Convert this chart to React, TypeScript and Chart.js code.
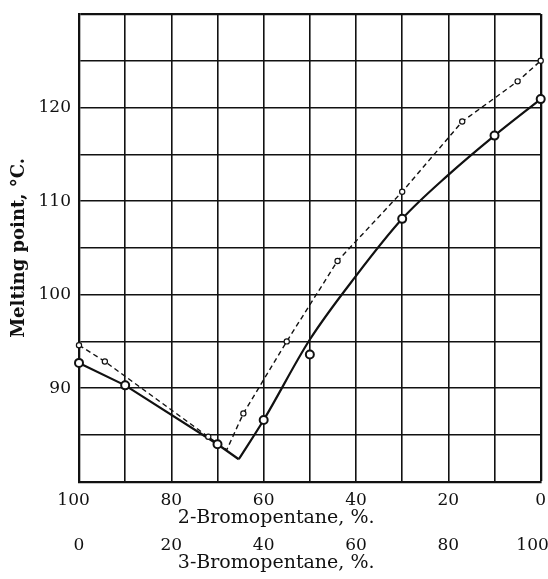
import { useEffect, useRef } from 'react';
import { Chart, registerables } from 'chart.js';

Chart.register(...registerables);

// ---- data ----
// x: 2-Bromopentane, % (3-Bromopentane % = 100 - x)
const solidMarkerPct2 = [100, 90, 70, 60, 50, 30, 10, 0];
const solidMarkerMp = [92.7, 90.3, 84.0, 86.6, 93.6, 108.1, 117.0, 120.9];

// solid curve, 2-bromo-rich branch (straight segments down to the eutectic)
const solidLeftPct2 = [100, 90, 70, 65.4];
const solidLeftMp = [92.7, 90.3, 84.0, 82.4];
// solid curve, 3-bromo-rich branch (smooth curve up from the eutectic)
const solidRightPct2 = [65.4, 60, 50, 40, 30, 20, 10, 0];
const solidRightMp = [82.4, 86.6, 95.2, 102.0, 108.1, 112.8, 117.0, 120.9];

const dashedPct2 = [100, 94.4, 72, 68, 64.4, 55, 44, 30, 17, 5, 0];
const dashedMp = [94.6, 92.85, 84.8, 83.4, 87.3, 95, 103.6, 111.0, 118.5, 122.8, 125.0];
const dashedMarkerShown = [true, true, true, false, true, true, true, true, true, true, true];

const yTickLabels = [90, 100, 110, 120];
const xTopTickLabels = [100, 80, 60, 40, 20, 0];
const xBottomTickLabels = [0, 20, 40, 60, 80, 100];

const yTitle = 'Melting point, °C.';
const xTitleTop = '2-Bromopentane, %.';
const xTitleBottom = '3-Bromopentane, %.';

const INK = '#111';
const SERIF = '"DejaVu Serif", "Liberation Serif", serif';

const toPoints = (xs: number[], ys: number[]) => xs.map((x, i) => ({ x, y: ys[i] }));

const xTitlesPlugin = {
  id: 'xTitles',
  afterDraw(chart: any) {
    const { ctx, chartArea, scales } = chart;
    const cx = chartArea.left + (chartArea.right - chartArea.left) * 0.427;
    ctx.save();
    ctx.fillStyle = INK;
    ctx.font = `19px ${SERIF}`;
    ctx.textAlign = 'center';
    ctx.textBaseline = 'alphabetic';
    ctx.fillText(xTitleTop, cx, scales.x.bottom - 7);
    ctx.fillText(xTitleBottom, cx, scales.x2.bottom - 10.7);
    ctx.restore();
  },
};

export default function App() {
  const canvasRef = useRef<HTMLCanvasElement | null>(null);

  useEffect(() => {
    const canvas = canvasRef.current;
    if (!canvas) return;

    const solidLine = {
      borderColor: INK,
      borderWidth: 2.2,
      pointRadius: 0,
      xAxisID: 'x',
      yAxisID: 'y',
      clip: false,
    };

    const chart = new Chart(canvas, {
      type: 'line',
      data: {
        datasets: [
          {
            label: 'solid markers',
            data: toPoints(solidMarkerPct2, solidMarkerMp),
            showLine: false,
            pointRadius: 4,
            pointBorderWidth: 2,
            pointBorderColor: INK,
            pointBackgroundColor: '#fff',
            xAxisID: 'x',
            yAxisID: 'y',
            clip: false,
            order: 0,
          },
          {
            label: 'dashed',
            data: toPoints(dashedPct2, dashedMp),
            borderColor: INK,
            borderWidth: 1.4,
            borderDash: [5, 3.5],
            tension: 0,
            pointRadius: (c: any) => (dashedMarkerShown[c.dataIndex] ? 2.6 : 0),
            pointBorderWidth: 1.2,
            pointBorderColor: INK,
            pointBackgroundColor: '#fff',
            xAxisID: 'x',
            yAxisID: 'y',
            clip: false,
            order: 1,
          },
          {
            label: 'solid curve left',
            data: toPoints(solidLeftPct2, solidLeftMp),
            ...solidLine,
            tension: 0,
            order: 2,
          },
          {
            label: 'solid curve right',
            data: toPoints(solidRightPct2, solidRightMp),
            ...solidLine,
            cubicInterpolationMode: 'monotone',
            order: 3,
          },
        ],
      },
      options: {
        animation: false,
        responsive: false,
        devicePixelRatio: 1,
        layout: { padding: { top: 14, right: 7.3, left: 0, bottom: 0 } },
        plugins: {
          legend: { display: false },
          tooltip: { enabled: false },
        },
        scales: {
          x: {
            type: 'linear',
            position: 'bottom',
            weight: 0,
            min: 0,
            max: 100,
            reverse: true,
            grid: {
              color: INK,
              lineWidth: (c: any) => (c.tick && c.tick.value === 0 ? 2.3 : 1.6),
              drawTicks: false,
            },
            border: { display: true, color: INK, width: 2.3 },
            ticks: {
              stepSize: 10,
              autoSkip: false,
              maxRotation: 0,
              padding: 9,
              color: INK,
              font: { family: SERIF, size: 17, lineHeight: 1.2 },
              callback: (v: any) =>
                xTopTickLabels.includes(v) ? (v === 100 ? '100\u00A0\u00A0' : String(v)) : '',
            },
            afterFit: (s: any) => {
              s.height = 48.7;
              s.paddingLeft = 0;
              s.paddingRight = 0;
            },
          },
          x2: {
            type: 'linear',
            position: 'bottom',
            weight: 1,
            min: 0,
            max: 100,
            grid: { display: false, drawTicks: false },
            border: { display: false },
            ticks: {
              stepSize: 10,
              autoSkip: false,
              maxRotation: 0,
              padding: 5,
              color: INK,
              font: { family: SERIF, size: 17, lineHeight: 1.2 },
              callback: (v: any) =>
                xBottomTickLabels.includes(v) ? (v === 100 ? '100\u00A0\u00A0\u00A0' : String(v)) : '',
            },
            afterFit: (s: any) => {
              s.height = 48.6;
              s.paddingLeft = 0;
              s.paddingRight = 0;
            },
          },
          y: {
            type: 'linear',
            position: 'left',
            min: 80,
            max: 130,
            grid: {
              color: INK,
              lineWidth: (c: any) => (c.tick && c.tick.value === 130 ? 2.3 : 1.6),
              drawTicks: false,
            },
            border: { display: true, color: INK, width: 2.3 },
            ticks: {
              stepSize: 5,
              autoSkip: false,
              padding: 8,
              color: INK,
              font: { family: SERIF, size: 17, lineHeight: 1.2 },
              callback: (v: any) => (yTickLabels.includes(v) ? String(v) : ''),
            },
            title: {
              display: true,
              text: yTitle,
              color: INK,
              font: { family: SERIF, size: 18, weight: 'bold', lineHeight: 1.2 },
              padding: { top: 9, bottom: 0 },
            },
            afterFit: (s: any) => {
              s.width = 79;
              s.paddingTop = 0;
              s.paddingBottom = 0;
            },
          },
        },
      },
      plugins: [xTitlesPlugin],
    } as any);

    return () => chart.destroy();
  }, []);

  return (
    <div style={{ position: 'absolute', left: 0, top: 0, width: 548, height: 579, background: '#fff' }}>
      <canvas ref={canvasRef} width={548} height={579} style={{ display: 'block', width: 548, height: 579 }} />
    </div>
  );
}
